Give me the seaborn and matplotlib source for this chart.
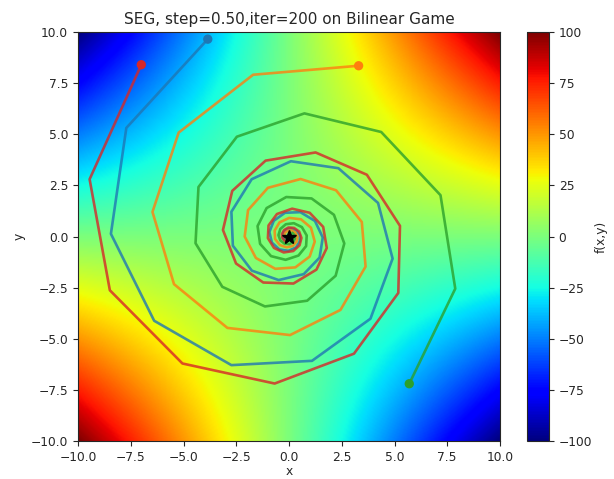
import numpy as np
import pandas as pd
import matplotlib
matplotlib.use("Agg")
import matplotlib.pyplot as plt
import seaborn as sns

# Trajectories (vertices of each spiral)
blue_x = [-3.85, -7.71, -8.44, -6.39, -2.73, 1.09, 3.86, 4.91, 4.22, 2.34, 0.09, -1.77,
          -2.73, -2.66, -1.76, -0.49, 0.70, 1.45, 1.60, 1.23, 0.54, -0.19, -0.72, -0.93,
          -0.81, -0.46, -0.03, 0.33, 0.51, 0.51, 0.34, 0.10, -0.13, -0.27, -0.30, -0.24]
blue_y = [9.65, 5.31, 0.13, -4.12, -6.29, -6.08, -4.02, -1.08, 1.64, 3.34, 3.68, 2.80,
          1.21, -0.45, -1.67, -2.13, -1.84, -1.03, -0.05, 0.76, 1.19, 1.16, 0.77, 0.22,
          -0.30, -0.63, -0.70, -0.54, -0.24, 0.08, 0.31, 0.40, 0.35, 0.20, 0.01, -0.14]
orange_x = [3.30, -1.70, -5.23, -6.47, -5.45, -2.92, 0.05, 2.44, 3.63, 3.45, 2.23, 0.55,
            -1.00, -1.94, -2.10, -1.57, -0.65, 0.30, 0.98, 1.22, 1.04, 0.57, 0.01, -0.45,
            -0.68, -0.66, -0.43, -0.11, 0.18, 0.36, 0.40, 0.30, 0.13, -0.05, -0.18, -0.23]
orange_y = [8.35, 7.91, 5.08, 1.20, -2.33, -4.47, -4.82, -3.59, -1.47, 0.71, 2.26, 2.81,
            2.38, 1.29, 0.00, -1.05, -1.58, -1.51, -0.98, -0.25, 0.43, 0.84, 0.91, 0.69,
            0.29, -0.12, -0.42, -0.53, -0.46, -0.25, -0.01, 0.19, 0.30, 0.29, 0.19, 0.05]
green_x = [5.70, 7.88, 7.18, 4.37, 0.73, -2.47, -4.29, -4.43, -3.16, -1.14, 0.86, 2.21,
           2.62, 2.13, 1.07, -0.13, -1.06, -1.49, -1.37, -0.85, -0.16, 0.45, 0.81, 0.84,
           0.61, 0.23, -0.15, -0.41, -0.50, -0.41, -0.21, 0.02, 0.20, 0.28, 0.26, 0.16]
green_y = [-7.20, -2.55, 2.02, 5.11, 6.02, 4.88, 2.42, -0.33, -2.46, -3.42, -3.14, -1.92,
           -0.34, 1.06, 1.86, 1.93, 1.39, 0.51, -0.36, -0.96, -1.14, -0.93, -0.47, 0.05,
           0.46, 0.65, 0.60, 0.37, 0.07, -0.19, -0.35, -0.37, -0.27, -0.10, 0.06, 0.18]
red_x = [-7.00, -9.45, -8.49, -5.05, -0.68, 3.08, 5.18, 5.26, 3.69, 1.26, -1.11, -2.69,
         -3.13, -2.51, -1.22, 0.21, 1.30, 1.79, 1.62, 0.98, 0.15, -0.57, -0.97, -1.00,
         -0.71, -0.25, 0.20, 0.50, 0.59, 0.48, 0.24, -0.03, -0.24, -0.34, -0.31, -0.19]
red_y = [8.40, 2.80, -2.63, -6.21, -7.19, -5.73, -2.76, 0.52, 3.02, 4.11, 3.71, 2.23,
         0.32, -1.32, -2.25, -2.30, -1.62, -0.56, 0.47, 1.16, 1.36, 1.10, 0.54, -0.08,
         -0.56, -0.78, -0.71, -0.43, -0.07, 0.24, 0.42, 0.44, 0.31, 0.11, -0.08, -0.22]

# Background surface of the bilinear game f(x, y) = x * y on [-10, 10]^2
grid_vals = np.linspace(-10, 10, 301)
surface = np.outer(grid_vals, grid_vals)  # rows: y, cols: x

title = "SEG, step=0.50,iter=200 on Bilinear Game"
cbar_ticks = [-100, -75, -50, -25, 0, 25, 50, 75, 100]
axis_ticks = [-10.0, -7.5, -5.0, -2.5, 0.0, 2.5, 5.0, 7.5, 10.0]

sns.set_style("ticks")
plt.rcParams["font.family"] = ["DejaVu Sans"]
plt.rcParams["xtick.labelsize"] = 8.8
plt.rcParams["ytick.labelsize"] = 8.8
plt.rcParams["axes.labelsize"] = 8.8

W, H = 614, 479
fig = plt.figure(figsize=(W / 100, H / 100), dpi=100)
ax = fig.add_axes([78 / W, 1 - 441 / H, 422 / W, 409 / H])
cax = fig.add_axes([527 / W, 1 - 441 / H, 22 / W, 409 / H])

im = ax.imshow(surface, extent=(-10, 10, -10, 10), origin="lower", cmap="jet",
               vmin=-100, vmax=100, aspect="auto", interpolation="bilinear")

trajs = [(blue_x, blue_y), (orange_x, orange_y), (green_x, green_y), (red_x, red_y)]
for k, (xs, ys) in enumerate(trajs):
    df = pd.DataFrame({"x": xs, "y": ys})
    sns.lineplot(data=df, x="x", y="y", sort=False, estimator=None, ax=ax,
                 color=f"C{k}", lw=1.9, alpha=0.8)
    sns.scatterplot(x=[xs[0]], y=[ys[0]], ax=ax, color=f"C{k}", s=45,
                    edgecolor="none", zorder=5)
ax.plot([0.0], [0.0], marker="*", color="k", ms=10, linestyle="none", zorder=6)

ax.set_xlim(-10, 10)
ax.set_ylim(-10, 10)
ax.set_xticks(axis_ticks)
ax.set_yticks(axis_ticks)
ax.set_xticklabels([f"{t:.1f}".replace("-", "\u2212") for t in axis_ticks])
ax.set_yticklabels([f"{t:.1f}".replace("-", "\u2212") for t in axis_ticks])
ax.set_xlabel("x", labelpad=1)
ax.set_ylabel("y")
ax.set_title(title, fontsize=11, color="#262626")

cb = fig.colorbar(im, cax=cax, ticks=cbar_ticks)
cb.set_label("f(x,y)", fontsize=8.8, labelpad=2)
cb.outline.set_linewidth(0.8)

fig.savefig("out.png", dpi=100)
